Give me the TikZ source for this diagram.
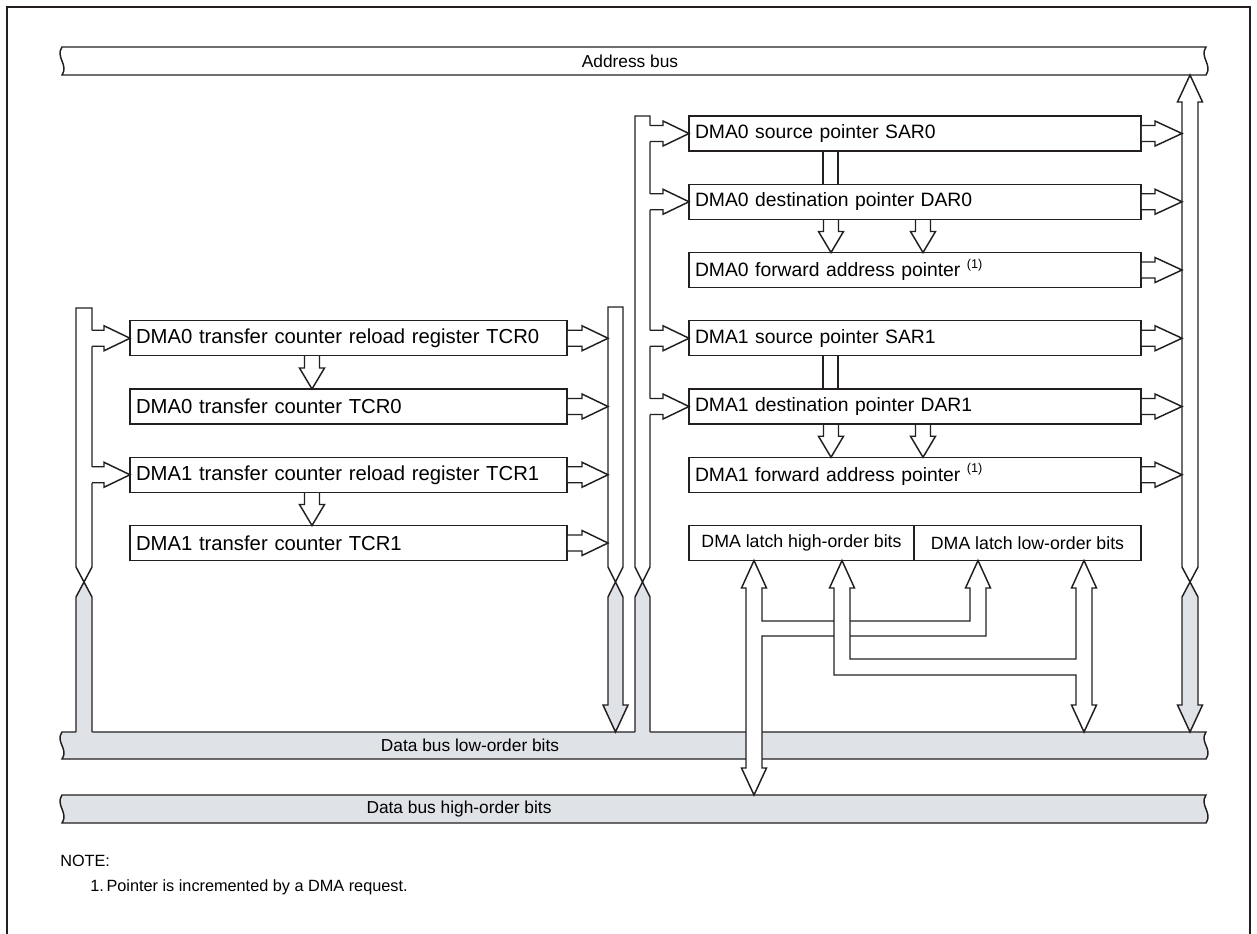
\documentclass[tikz,border=0pt]{standalone}
\usepackage{fontspec}
\setmainfont{Liberation Sans}
\usetikzlibrary{calc}
\definecolor{busgray}{RGB}{223,226,231}
\definecolor{ink}{RGB}{35,31,32}
\newcommand\bxfnt{\fontsize{14.5}{17}\selectfont}
\newcommand\lbxfnt{\fontsize{15.2}{17}\selectfont}
\newcommand\smfnt{\fontsize{13}{15}\selectfont}
\newcommand\ltfnt{\fontsize{13.3}{15}\selectfont}
\newcommand\ntfnt{\fontsize{12.2}{14}\selectfont}
\newcommand\supone{\ \raisebox{0.45em}{\fontsize{9.5}{10}\selectfont(1)}}
% horizontal fat arrow: #1 fill offset, #2 start coordinate, #3 shaft length, #4 head length
\newcommand\harrow[4][0.8]{%
  \path #2 coordinate (hs);
  \fill[white] ($(hs)+(#1,-8)$) -- ++({#3-(#1)},0) -- ++(0,-4.5) -- ++(#4,12.5) -- ++(-#4,12.5) -- ++(0,-4.5) -- ++({-(#3)+(#1)},0) -- cycle;
  \draw[ln] ($(hs)+(0,-8)$) -- ++(#3,0) -- ++(0,-4.5) -- ++(#4,12.5) -- ++(-#4,12.5) -- ++(0,-4.5) -- ++(-#3,0);
}
% vertical down fat arrow: #1 start coordinate, #2 shaft, #3 head
\newcommand\varrow[3]{%
  \path #1 coordinate (vs);
  \draw[ln] ($(vs)+(-7.5,0)$) -- ++(0,#2) -- ++(-5,0) -- ++(12.5,#3) -- ++(12.5,-#3) -- ++(-5,0) -- ++(0,-#2);
}
\newcommand\hbus[5]{% left x, right x, top y, bottom y, fill
  \filldraw[ln, fill=#5] (#1,#3) .. controls (#1-7,#3+10) and (#1+7,#4-10) .. (#1,#4) -- (#2,#4) .. controls (#2+7,#4-10) and (#2-7,#3+10) .. (#2,#3) -- cycle;
}
\begin{document}
\begin{tikzpicture}[x=0.75pt,y=-0.75pt,
  ln/.style={line width=1.1pt, draw=ink, line join=miter},
  reg/.style={ln, fill=white, rectangle, inner xsep=4.5pt, inner ysep=0pt, outer sep=0pt,
    anchor=north west, minimum height=26.25pt},
  rbox/.style={reg, text width=330pt, align=left, font=\bxfnt},
  lbox/.style={reg, text width=318.75pt, align=left, font=\lbxfnt},
  lbl/.style={font=\smfnt, inner sep=0pt}]
\useasboundingbox (0,0) rectangle (1257,933);
\fill[white] (0,0) rectangle (1257,933);
% frame
\draw[ln] (7,940) -- (7,7) -- (1250,7) -- (1250,940);

% horizontal buses
\hbus{62}{1206}{47}{75}{white}
\node[lbl] (abus) at (630,61) {Address bus};
\hbus{62}{1206}{732}{759}{busgray}
\node[lbl] (dlow) at (470,745.5) {Data bus low-order bits};
\hbus{62}{1206}{795}{823}{busgray}
\node[lbl] (dhigh) at (459,809) {Data bus high-order bits};

% vertical bus L
\filldraw[ln, fill=white] (76,567) -- (76,308) -- (92,308) -- (92,567) -- (84,582) -- cycle;
\fill[busgray] (84,582) -- (92,597) -- (92,733.5) -- (76,733.5) -- (76,597) -- cycle;
\draw[ln] (76,732) -- (76,597) -- (84,582) -- (92,597) -- (92,732);
% vertical bus 2
\filldraw[ln, fill=white] (608,567) -- (608,307) -- (623,307) -- (623,567) -- (615.5,582) -- cycle;
\filldraw[ln, fill=busgray] (615.5,582) -- (623,597) -- (623,705) -- (628,705) -- (615.5,732) -- (603,705) -- (608,705) -- (608,597) -- cycle;
% vertical bus 3
\filldraw[ln, fill=white] (635,567) -- (635,116) -- (650,116) -- (650,567) -- (642.5,582) -- cycle;
\fill[busgray] (642.5,582) -- (650,597) -- (650,733.5) -- (635,733.5) -- (635,597) -- cycle;
\draw[ln] (635,732) -- (635,597) -- (642.5,582) -- (650,597) -- (650,732);
% vertical address bus link
\filldraw[ln, fill=white] (1182,567) -- (1182,102) -- (1177.5,102) -- (1190,75) -- (1202.5,102) -- (1198,102) -- (1198,567) -- (1190,582) -- cycle;
\filldraw[ln, fill=busgray] (1190,582) -- (1198,597) -- (1198,705) -- (1202.5,705) -- (1190,732) -- (1177.5,705) -- (1182,705) -- (1182,597) -- cycle;

% right registers
\node[rbox] (sar0) at (689,116) {DMA0 source pointer SAR0};
\node[rbox] (dar0) at (689,184.25) {DMA0 destination pointer DAR0};
\node[rbox] (fwd0) at (689,252.5) {DMA0 forward address pointer\supone};
\node[rbox] (sar1) at (689,320.75) {DMA1 source pointer SAR1};
\node[rbox] (dar1) at (689,389) {DMA1 destination pointer DAR1};
\node[rbox] (fwd1) at (689,457.25) {DMA1 forward address pointer\supone};
\node[reg, minimum width=168.75pt, font=\ltfnt] (lhi) at (689,525.5) {DMA latch high-order bits};
\node[reg, minimum width=170.25pt, font=\ltfnt] (llo) at (lhi.north east) {DMA latch low-order bits};

% left registers
\node[lbox] (tcrr0) at (130,320.75) {DMA0 transfer counter reload register TCR0};
\node[lbox] (tcr0) at (130,389) {DMA0 transfer counter TCR0};
\node[lbox] (tcrr1) at (130,457.25) {DMA1 transfer counter reload register TCR1};
\node[lbox] (tcr1) at (130,525.5) {DMA1 transfer counter TCR1};

% bus L -> left registers
\harrow[-1.5]{($(tcrr0.west)+(-38,0)$)}{12}{26}
\harrow[-1.5]{($(tcrr1.west)+(-38,0)$)}{12}{26}
% left registers -> bus 2
\harrow{(tcrr0.east)}{15}{26}
\harrow{(tcr0.east)}{15}{26}
\harrow{(tcrr1.east)}{15}{26}
\harrow{(tcr1.east)}{15}{26}
% reload -> counter
\varrow{($(tcrr0.south west)+(182,0)$)}{12.25}{21}
\varrow{($(tcrr1.south west)+(182,0)$)}{12.25}{21}

% bus 3 -> right registers
\harrow[-1.5]{($(sar0.west)+(-39,0)$)}{13}{26}
\harrow[-1.5]{($(dar0.west)+(-39,0)$)}{13}{26}
\harrow[-1.5]{($(sar1.west)+(-39,0)$)}{13}{26}
\harrow[-1.5]{($(dar1.west)+(-39,0)$)}{13}{26}
% right registers -> address bus link
\harrow{(sar0.east)}{14}{27}
\harrow{(dar0.east)}{14}{27}
\harrow{(fwd0.east)}{14}{27}
\harrow{(sar1.east)}{14}{27}
\harrow{(dar1.east)}{14}{27}
\harrow{(fwd1.east)}{14}{27}
% SAR -> DAR links
\draw[ln] ($(sar0.south west)+(134,0)$) -- ($(dar0.north west)+(134,0)$);
\draw[ln] ($(sar0.south west)+(149,0)$) -- ($(dar0.north west)+(149,0)$);
\draw[ln] ($(sar1.south west)+(134,0)$) -- ($(dar1.north west)+(134,0)$);
\draw[ln] ($(sar1.south west)+(149,0)$) -- ($(dar1.north west)+(149,0)$);
% DAR -> forward pointer
\varrow{($(dar0.south west)+(142,0)$)}{12.25}{21}
\varrow{($(dar0.south west)+(234,0)$)}{12.25}{21}
\varrow{($(dar1.south west)+(142,0)$)}{12.25}{21}
\varrow{($(dar1.south west)+(234,0)$)}{12.25}{21}

% latch data paths
\filldraw[ln, fill=white] (754,560.5) -- (766.5,588) -- (762,588) -- (762,621) -- (970,621) -- (970,588) -- (965.5,588) -- (978,560.5) -- (990.5,588) -- (986,588) -- (986,636) -- (762,636) -- (762,768) -- (766.5,768) -- (754,795) -- (741.5,768) -- (746,768) -- (746,588) -- (741.5,588) -- cycle;
\filldraw[ln, fill=white] (842,560.5) -- (854.5,588) -- (850,588) -- (850,659) -- (1076,659) -- (1076,588) -- (1071.5,588) -- (1084,560.5) -- (1096.5,588) -- (1092,588) -- (1092,705) -- (1096.5,705) -- (1084,732) -- (1071.5,705) -- (1076,705) -- (1076,675) -- (834,675) -- (834,588) -- (829.5,588) -- cycle;

% note
\node[lbl, font=\ntfnt, anchor=base west] (note) at (60,866) {NOTE:};
\node[lbl, font=\ntfnt, anchor=base west] (note1) at (90,891) {1.\,Pointer is incremented by a DMA request.};
\end{tikzpicture}
\end{document}
